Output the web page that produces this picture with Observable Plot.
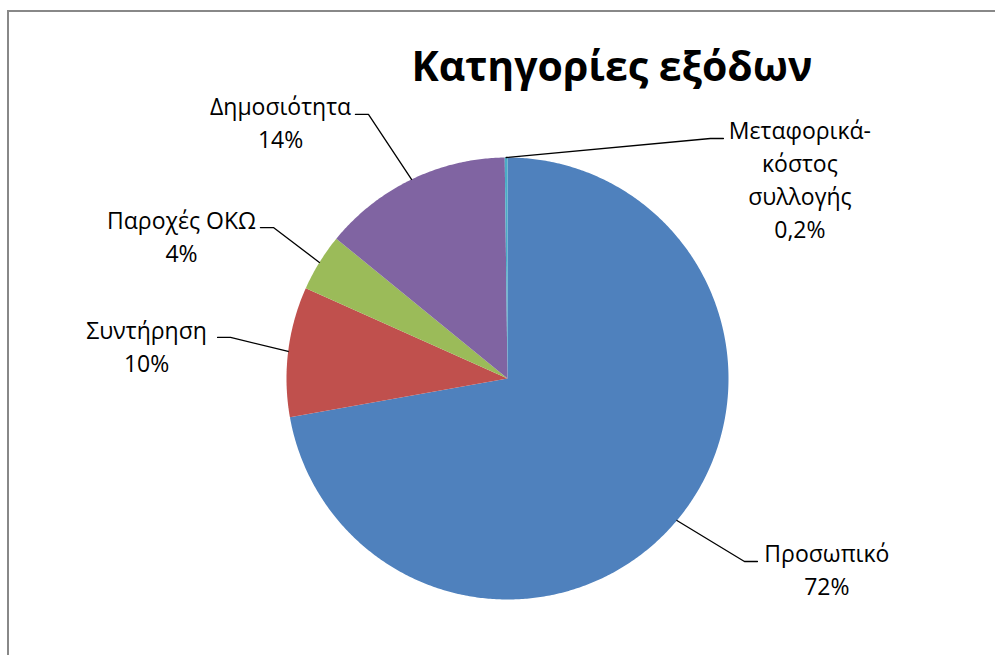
<!DOCTYPE html>
<html>
<head>
<meta charset="utf-8">
<script src="https://cdn.jsdelivr.net/npm/d3@7"></script>
<script src="https://cdn.jsdelivr.net/npm/@observablehq/plot@0.6"></script>
<style>
  html, body { margin: 0; padding: 0; background: #fff; overflow: hidden; }
  #wrap { position: relative; width: 995px; height: 655px; overflow: hidden; }
  #frame { position: absolute; left: 7px; top: 10px; width: 1100px; height: 800px;
           border-left: 2px solid #888; border-top: 2px solid #888; box-sizing: border-box; }
  #title { position: absolute; left: 612px; top: 45px; transform: translateX(-50%);
           font-family: "Open Sans", sans-serif; font-weight: 700; font-size: 41px;
           line-height: 1; white-space: nowrap; color: #000; }
  #chart { position: absolute; left: 0; top: 0; }
</style>
</head>
<body>
<div id="wrap">
  <div id="frame"></div>
  <div id="chart"></div>
  <div id="title">Κατηγορίες εξόδων</div>
</div>
<script>
// ---- data ----
const categories = ["Προσωπικό", "Συντήρηση", "Παροχές ΟΚΩ", "Δημοσιότητα", "Μεταφορικά-\nκόστος\nσυλλογής"];
const shares = [72.2, 9.5, 4.2, 13.9, 0.2];
const colors = ["#4F81BD", "#C0504D", "#9BBB59", "#8064A2", "#4BACC6"];

// ---- label layout (pie-radius units, relative to the pie centre) ----
const labelCenter = [[1.445, -0.858], [-1.633, 0.150], [-1.475, 0.648], [-1.027, 1.165], [1.323, 0.906]];
const leaderEnd   = [[1.131, -0.828], [-1.312, 0.186], [-1.118, 0.683], [-0.688, 1.195], [0.977, 1.086]];

// pie geometry
const R = 221, cx = 507, cy = 378, W = 995, H = 655;
const arcs = d3.pie().sort(null).value(d => d)(shares); // angles clockwise from 12 o'clock

const slicePts = [];
arcs.forEach((a, i) => {
  slicePts.push({cat: categories[i], x: 0, y: 0});
  const n = Math.max(2, Math.ceil((a.endAngle - a.startAngle) / (Math.PI / 360)));
  for (let k = 0; k <= n; k++) {
    const t = a.startAngle + (a.endAngle - a.startAngle) * k / n;
    slicePts.push({cat: categories[i], x: Math.sin(t), y: Math.cos(t)});
  }
});

const fmt = v => v < 1 ? v.toFixed(1).replace(".", ",") + "%" : Math.round(v + 1e-9) + "%";

const leaders = [];
arcs.forEach((a, i) => {
  const m = (a.startAngle + a.endAngle) / 2;
  const [ex, ey] = leaderEnd[i];
  const side = ex > 0 ? 1 : -1;
  leaders.push({cat: categories[i], x: Math.sin(m), y: Math.cos(m)});
  leaders.push({cat: categories[i], x: ex - side * 13 / R, y: ey});
  leaders.push({cat: categories[i], x: ex, y: ey});
});

const labels = categories.map((c, i) => ({
  text: c + "\n" + fmt(shares[i]),
  x: labelCenter[i][0], y: labelCenter[i][1]
}));

const chart = Plot.plot({
  width: W, height: H, margin: 0,
  x: {domain: [-cx / R, (W - cx) / R], axis: null},
  y: {domain: [-(H - cy) / R, cy / R], axis: null},
  color: {domain: categories, range: colors},
  style: {background: "transparent", overflow: "visible"},
  marks: [
    Plot.line(slicePts, {x: "x", y: "y", z: "cat", fill: "cat", stroke: "none", curve: "linear-closed"}),
    Plot.line(leaders, {x: "x", y: "y", z: "cat", stroke: "#000", strokeWidth: 1.3}),
    Plot.text(labels, {x: "x", y: "y", text: "text", textAnchor: "middle", lineAnchor: "middle",
      fontSize: 23, lineHeight: 1.43, fill: "#000", fontFamily: "Open Sans"})
  ]
});
document.getElementById("chart").appendChild(chart);
</script>
</body>
</html>
